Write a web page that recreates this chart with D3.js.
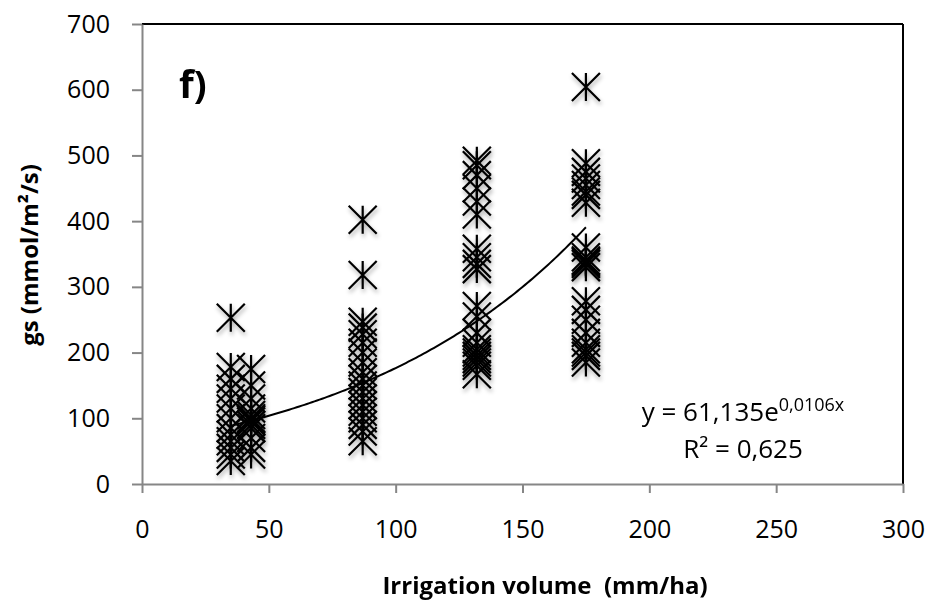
<!DOCTYPE html>
<html>
<head>
<meta charset="utf-8">
<script src="https://cdn.jsdelivr.net/npm/d3@7/dist/d3.min.js"></script>
<style>
  html, body { margin: 0; padding: 0; background: #fff; }
  svg { display: block; }
  text { font-family: "Open Sans", sans-serif; fill: #000; white-space: pre; }
</style>
</head>
<body>
<svg id="chart" width="929" height="613"></svg>
<script>
// Stomatal conductance (gs) measured at each irrigation volume
const volume35  = [253, 178, 160, 145, 130, 115, 100, 85, 75, 65, 55, 45, 35];
const volume43  = [175, 150, 130, 115, 105, 100, 98, 95, 90, 85, 70, 55, 45];
const volume87  = [402, 318, 247, 238, 228, 215, 200, 185, 170, 160, 150, 140, 130, 120, 110, 100, 90, 80, 65];
const volume132 = [492, 485, 470, 450, 430, 410, 358, 345, 335, 327, 271, 255, 230, 215, 205, 200, 195, 190, 185, 180, 167];
const volume175 = [604, 488, 475, 465, 455, 445, 440, 428, 360, 345, 340, 338, 335, 330, 278, 265, 250, 230, 215, 205, 200, 195, 185];

const groups = [
  { x: 35, values: volume35 },
  { x: 43, values: volume43 },
  { x: 87, values: volume87 },
  { x: 132, values: volume132 },
  { x: 175, values: volume175 }
];

const xTicks = [0, 50, 100, 150, 200, 250, 300];
const yTicks = [0, 100, 200, 300, 400, 500, 600, 700];

// Exponential fit y = a * e^(b x)
const fitA = 61.135, fitB = 0.0106;
const fitRange = [35, 175];

const svg = d3.select("#chart");
const x = d3.scaleLinear().domain([0, 300]).range([142, 903]);
const y = d3.scaleLinear().domain([0, 700]).range([484, 24]);

// soft shadow under the markers
const defs = svg.append("defs");
const f = defs.append("filter").attr("id", "shadow")
  .attr("x", "-50%").attr("y", "-50%").attr("width", "200%").attr("height", "200%");
f.append("feDropShadow").attr("dx", 1).attr("dy", 3).attr("stdDeviation", 2)
  .attr("flood-color", "#000").attr("flood-opacity", 0.35);

// frame: top and right edges
svg.append("line").attr("x1", x(0)).attr("x2", x(300)).attr("y1", y(700)).attr("y2", y(700))
  .attr("stroke", "#000").attr("stroke-width", 2);
svg.append("line").attr("x1", x(300)).attr("x2", x(300)).attr("y1", y(700)).attr("y2", y(0))
  .attr("stroke", "#000").attr("stroke-width", 2);

// axes
const axisColor = "#868686";
const gx = svg.append("g").attr("transform", `translate(0,${y(0)})`)
  .call(d3.axisBottom(x).tickValues(xTicks).tickSize(9).tickSizeOuter(0).tickPadding(27));
const gy = svg.append("g").attr("transform", `translate(${x(0)},0)`)
  .call(d3.axisLeft(y).tickValues(yTicks).tickSize(10).tickSizeOuter(0).tickPadding(22));
[gx, gy].forEach(g => {
  g.select(".domain").attr("stroke", axisColor).attr("stroke-width", 2);
  g.selectAll(".tick line").attr("stroke", axisColor).attr("stroke-width", 2);
  g.selectAll(".tick text").attr("font-family", "'Open Sans', sans-serif").attr("font-size", 25).attr("fill", "#000");
});

// trend line
const fitPts = d3.range(fitRange[0], fitRange[1] + 0.001, 1).map(v => [v, fitA * Math.exp(fitB * v)]);
svg.append("path")
  .datum(fitPts)
  .attr("d", d3.line().x(d => x(d[0])).y(d => y(d[1])))
  .attr("fill", "none").attr("stroke", "#000").attr("stroke-width", 2);

// star markers
const pts = groups.flatMap(g => g.values.map(v => ({ x: g.x, y: v })));
const r = 14;
const starPath = `M${-r},${-r}L${r},${r}M${-r},${r}L${r},${-r}M0,${-r}L0,${r}`;
svg.append("g").attr("filter", "url(#shadow)")
  .selectAll("path").data(pts).join("path")
  .attr("transform", d => `translate(${x(d.x)},${y(d.y)})`)
  .attr("d", starPath)
  .attr("fill", "none").attr("stroke", "#000").attr("stroke-width", 2.2);

// panel label
svg.append("text").attr("x", 179).attr("y", 98)
  .attr("font-size", 38).attr("font-weight", "bold").text("f)");

// fit equation
const eq = svg.append("text").attr("x", 743).attr("y", 421).attr("text-anchor", "middle")
  .attr("font-size", 26);
eq.append("tspan").text("y = 61,135e");
eq.append("tspan").attr("dy", -10).attr("font-size", 18).text("0,0106x");
svg.append("text").attr("x", 743).attr("y", 458).attr("text-anchor", "middle")
  .attr("font-size", 26).text("R² = 0,625");

// axis titles
svg.append("text").attr("x", 545).attr("y", 594).attr("text-anchor", "middle")
  .attr("font-size", 24).attr("font-weight", "bold").text("Irrigation volume  (mm/ha)");
svg.append("text").attr("transform", "translate(38,255) rotate(-90)").attr("text-anchor", "middle")
  .attr("font-size", 24).attr("font-weight", "bold").text("gs (mmol/m²/s)");
</script>
</body>
</html>
